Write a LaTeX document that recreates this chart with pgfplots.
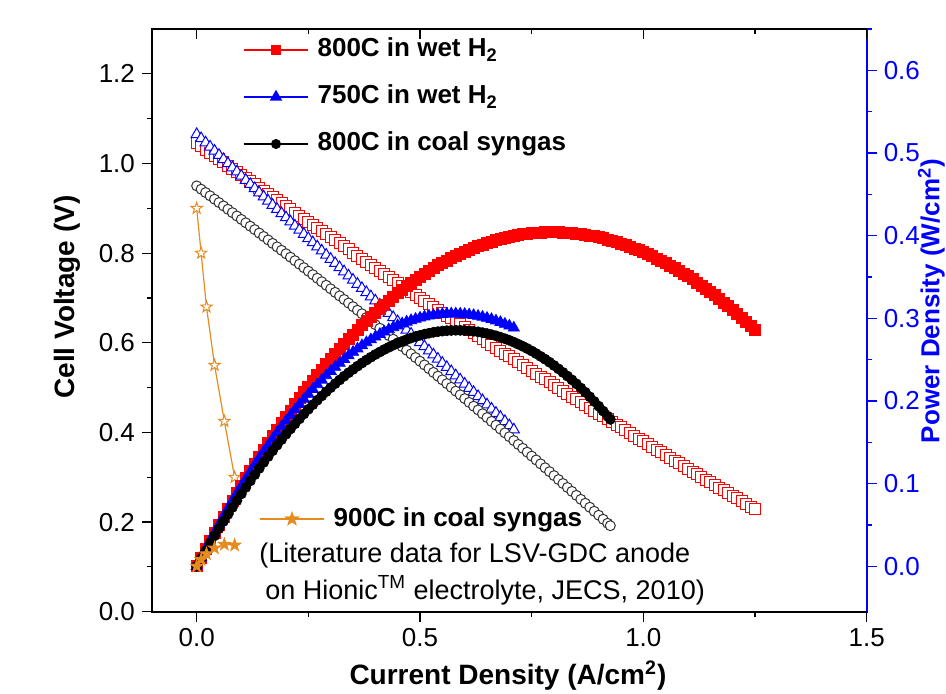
\documentclass[border=0pt]{standalone}
\usepackage{fontspec}
\setmainfont{Liberation Sans}
\usepackage{pgfplots}
\usepackage{pgfplotstable}
\pgfplotsset{compat=1.18}

\definecolor{starorange}{RGB}{230,140,30}

% five-pointed star mark, filled with the current fill colour
\pgfdeclareplotmark{pstar}{%
  \pgfpathmoveto{\pgfpointpolar{90}{\pgfplotmarksize}}%
  \pgfpathlineto{\pgfpointpolar{126}{0.4*\pgfplotmarksize}}%
  \pgfpathlineto{\pgfpointpolar{162}{\pgfplotmarksize}}%
  \pgfpathlineto{\pgfpointpolar{198}{0.4*\pgfplotmarksize}}%
  \pgfpathlineto{\pgfpointpolar{234}{\pgfplotmarksize}}%
  \pgfpathlineto{\pgfpointpolar{270}{0.4*\pgfplotmarksize}}%
  \pgfpathlineto{\pgfpointpolar{306}{\pgfplotmarksize}}%
  \pgfpathlineto{\pgfpointpolar{342}{0.4*\pgfplotmarksize}}%
  \pgfpathlineto{\pgfpointpolar{18}{\pgfplotmarksize}}%
  \pgfpathlineto{\pgfpointpolar{54}{0.4*\pgfplotmarksize}}%
  \pgfpathclose
  \pgfusepathqfillstroke
}

% I (A/cm2)  V (V)  P (W/cm2)
\pgfplotstableread{
I     V      P
0.00  1.0450 0.0000
0.01  1.0379 0.0104
0.02  1.0308 0.0206
0.03  1.0237 0.0307
0.04  1.0166 0.0407
0.05  1.0095 0.0505
0.06  1.0024 0.0601
0.07  0.9954 0.0697
0.08  0.9883 0.0791
0.09  0.9813 0.0883
0.10  0.9742 0.0974
0.11  0.9672 0.1064
0.12  0.9601 0.1152
0.13  0.9531 0.1239
0.14  0.9461 0.1325
0.15  0.9391 0.1409
0.16  0.9321 0.1491
0.17  0.9252 0.1573
0.18  0.9182 0.1653
0.19  0.9113 0.1731
0.20  0.9043 0.1809
0.21  0.8974 0.1885
0.22  0.8905 0.1959
0.23  0.8836 0.2032
0.24  0.8766 0.2104
0.25  0.8698 0.2174
0.26  0.8629 0.2244
0.27  0.8560 0.2311
0.28  0.8491 0.2378
0.29  0.8423 0.2443
0.30  0.8354 0.2506
0.31  0.8286 0.2569
0.32  0.8218 0.2630
0.33  0.8150 0.2689
0.34  0.8081 0.2748
0.35  0.8013 0.2805
0.36  0.7945 0.2860
0.37  0.7878 0.2915
0.38  0.7810 0.2968
0.39  0.7743 0.3020
0.40  0.7675 0.3070
0.41  0.7608 0.3119
0.42  0.7540 0.3167
0.43  0.7473 0.3213
0.44  0.7406 0.3259
0.45  0.7339 0.3303
0.46  0.7272 0.3345
0.47  0.7205 0.3386
0.48  0.7138 0.3426
0.49  0.7072 0.3465
0.50  0.7005 0.3503
0.51  0.6939 0.3539
0.52  0.6872 0.3573
0.53  0.6806 0.3607
0.54  0.6740 0.3640
0.55  0.6674 0.3671
0.56  0.6608 0.3700
0.57  0.6542 0.3729
0.58  0.6476 0.3756
0.59  0.6411 0.3782
0.60  0.6345 0.3807
0.61  0.6280 0.3831
0.62  0.6214 0.3853
0.63  0.6149 0.3874
0.64  0.6083 0.3893
0.65  0.6018 0.3912
0.66  0.5953 0.3929
0.67  0.5889 0.3946
0.68  0.5824 0.3960
0.69  0.5759 0.3974
0.70  0.5694 0.3986
0.71  0.5630 0.3997
0.72  0.5565 0.4007
0.73  0.5501 0.4016
0.74  0.5437 0.4023
0.75  0.5373 0.4029
0.76  0.5308 0.4034
0.77  0.5245 0.4038
0.78  0.5181 0.4041
0.79  0.5117 0.4042
0.80  0.5053 0.4042
0.81  0.4990 0.4042
0.82  0.4926 0.4039
0.83  0.4863 0.4036
0.84  0.4799 0.4031
0.85  0.4736 0.4026
0.86  0.4673 0.4019
0.87  0.4610 0.4011
0.88  0.4547 0.4001
0.89  0.4485 0.3991
0.90  0.4422 0.3980
0.91  0.4360 0.3968
0.92  0.4297 0.3953
0.93  0.4235 0.3938
0.94  0.4172 0.3922
0.95  0.4110 0.3905
0.96  0.4048 0.3886
0.97  0.3986 0.3866
0.98  0.3924 0.3845
0.99  0.3862 0.3823
1.00  0.3800 0.3800
1.01  0.3739 0.3776
1.02  0.3677 0.3750
1.03  0.3616 0.3724
1.04  0.3554 0.3696
1.05  0.3493 0.3668
1.06  0.3432 0.3638
1.07  0.3371 0.3607
1.08  0.3310 0.3575
1.09  0.3249 0.3541
1.10  0.3188 0.3507
1.11  0.3127 0.3471
1.12  0.3066 0.3434
1.13  0.3006 0.3397
1.14  0.2946 0.3358
1.15  0.2886 0.3319
1.16  0.2825 0.3277
1.17  0.2765 0.3235
1.18  0.2705 0.3192
1.19  0.2646 0.3149
1.20  0.2586 0.3103
1.21  0.2526 0.3056
1.22  0.2466 0.3009
1.23  0.2407 0.2961
1.24  0.2347 0.2910
1.25  0.2288 0.2860
}\redH

\pgfplotstableread{
I     V      P
0.00  1.0650 0.0000
0.01  1.0557 0.0106
0.02  1.0464 0.0209
0.03  1.0372 0.0311
0.04  1.0279 0.0411
0.05  1.0186 0.0509
0.06  1.0093 0.0606
0.07  1.0000 0.0700
0.08  0.9908 0.0793
0.09  0.9815 0.0883
0.10  0.9722 0.0972
0.11  0.9629 0.1059
0.12  0.9536 0.1144
0.13  0.9444 0.1228
0.14  0.9351 0.1309
0.15  0.9258 0.1389
0.16  0.9165 0.1466
0.17  0.9072 0.1542
0.18  0.8980 0.1616
0.19  0.8887 0.1689
0.20  0.8794 0.1759
0.21  0.8701 0.1827
0.22  0.8608 0.1894
0.23  0.8516 0.1959
0.24  0.8423 0.2022
0.25  0.8330 0.2083
0.26  0.8237 0.2142
0.27  0.8144 0.2199
0.28  0.8052 0.2254
0.29  0.7959 0.2308
0.30  0.7866 0.2360
0.31  0.7773 0.2410
0.32  0.7680 0.2458
0.33  0.7588 0.2504
0.34  0.7495 0.2548
0.35  0.7402 0.2591
0.36  0.7309 0.2631
0.37  0.7216 0.2670
0.38  0.7124 0.2707
0.39  0.7031 0.2742
0.40  0.6938 0.2775
0.41  0.6845 0.2806
0.42  0.6752 0.2836
0.43  0.6660 0.2864
0.44  0.6567 0.2889
0.45  0.6474 0.2913
0.46  0.6381 0.2935
0.47  0.6288 0.2956
0.48  0.6196 0.2974
0.49  0.6103 0.2990
0.50  0.6010 0.3005
0.51  0.5917 0.3018
0.52  0.5824 0.3029
0.53  0.5732 0.3038
0.54  0.5639 0.3045
0.55  0.5546 0.3050
0.56  0.5453 0.3054
0.57  0.5360 0.3055
0.58  0.5268 0.3055
0.59  0.5175 0.3053
0.60  0.5082 0.3049
0.61  0.4989 0.3043
0.62  0.4896 0.3036
0.63  0.4804 0.3026
0.64  0.4711 0.3015
0.65  0.4618 0.3002
0.66  0.4525 0.2987
0.67  0.4432 0.2970
0.68  0.4340 0.2951
0.69  0.4247 0.2930
0.70  0.4154 0.2908
0.71  0.4061 0.2884
}\blueH

\pgfplotstableread{
I     V      P
0.00  0.9500 0.0000
0.01  0.9426 0.0094
0.02  0.9352 0.0187
0.03  0.9278 0.0278
0.04  0.9203 0.0368
0.05  0.9128 0.0456
0.06  0.9053 0.0543
0.07  0.8978 0.0628
0.08  0.8903 0.0712
0.09  0.8828 0.0794
0.10  0.8752 0.0875
0.11  0.8676 0.0954
0.12  0.8600 0.1032
0.13  0.8524 0.1108
0.14  0.8447 0.1183
0.15  0.8371 0.1256
0.16  0.8294 0.1327
0.17  0.8217 0.1397
0.18  0.8140 0.1465
0.19  0.8063 0.1532
0.20  0.7986 0.1597
0.21  0.7909 0.1661
0.22  0.7831 0.1723
0.23  0.7753 0.1783
0.24  0.7675 0.1842
0.25  0.7597 0.1899
0.26  0.7519 0.1955
0.27  0.7440 0.2009
0.28  0.7361 0.2061
0.29  0.7283 0.2112
0.30  0.7204 0.2161
0.31  0.7125 0.2209
0.32  0.7045 0.2254
0.33  0.6966 0.2299
0.34  0.6886 0.2341
0.35  0.6806 0.2382
0.36  0.6726 0.2421
0.37  0.6646 0.2459
0.38  0.6565 0.2495
0.39  0.6485 0.2529
0.40  0.6404 0.2562
0.41  0.6323 0.2592
0.42  0.6242 0.2622
0.43  0.6161 0.2649
0.44  0.6079 0.2675
0.45  0.5998 0.2699
0.46  0.5916 0.2721
0.47  0.5834 0.2742
0.48  0.5752 0.2761
0.49  0.5670 0.2778
0.50  0.5588 0.2794
0.51  0.5505 0.2808
0.52  0.5422 0.2819
0.53  0.5339 0.2830
0.54  0.5256 0.2838
0.55  0.5173 0.2845
0.56  0.5089 0.2850
0.57  0.5006 0.2853
0.58  0.4922 0.2855
0.59  0.4838 0.2854
0.60  0.4754 0.2852
0.61  0.4670 0.2849
0.62  0.4585 0.2843
0.63  0.4501 0.2836
0.64  0.4416 0.2826
0.65  0.4331 0.2815
0.66  0.4246 0.2802
0.67  0.4161 0.2788
0.68  0.4075 0.2771
0.69  0.3990 0.2753
0.70  0.3904 0.2733
0.71  0.3818 0.2711
0.72  0.3731 0.2686
0.73  0.3645 0.2661
0.74  0.3559 0.2634
0.75  0.3472 0.2604
0.76  0.3385 0.2573
0.77  0.3298 0.2539
0.78  0.3211 0.2505
0.79  0.3124 0.2468
0.80  0.3036 0.2429
0.81  0.2948 0.2388
0.82  0.2860 0.2345
0.83  0.2772 0.2301
0.84  0.2684 0.2255
0.85  0.2596 0.2207
0.86  0.2507 0.2156
0.87  0.2419 0.2105
0.88  0.2330 0.2050
0.89  0.2241 0.1994
0.90  0.2152 0.1937
0.91  0.2063 0.1877
0.92  0.1973 0.1815
0.926 0.1919 0.1777
}\blackSyn

\pgfplotstableread{
I     V      P
0.000 0.900  0.0000
0.010 0.800  0.0080
0.022 0.680  0.0150
0.040 0.550  0.0220
0.062 0.425  0.0264
0.085 0.300  0.0255
}\litSyn

\begin{document}
\begin{tikzpicture}
\useasboundingbox (-76pt,-40.65pt) rectangle (397pt,305.85pt);

% ---- left axis: cell voltage
\begin{axis}[
  at={(0pt,0pt)}, anchor=south west,
  scale only axis, width=357.35pt, height=291.35pt,
  xmin=-0.1, xmax=1.5, ymin=0, ymax=1.3,
  xtick={0,0.5,1,1.5}, minor xtick={0.25,0.75,1.25},
  ytick={0,0.2,0.4,0.6,0.8,1.0,1.2}, minor ytick={0.1,0.3,0.5,0.7,0.9,1.1},
  xtick pos=bottom, ytick pos=left, tick align=outside,
  major tick length=5pt, minor tick length=2.5pt,
  tick style={black, line width=0.6pt},
  axis line style={line width=0.9pt},
  clip=false,
  ticklabel style={font=\fontsize{13}{15}\selectfont},
  /pgf/number format/assume math mode=true,
  /pgf/number format/fixed, /pgf/number format/fixed zerofill,
  /pgf/number format/precision=1,
  xlabel={Current Density (A/cm\textsuperscript{2})},
  ylabel={Cell Voltage (V)},
  label style={font=\fontsize{14}{16}\bfseries\selectfont},
  xlabel style={at={(axis description cs:0.498,-0.11)}, anchor=center},
  ylabel style={at={(axis description cs:-0.119,0.54)}, anchor=center},
  legend image code/.code={%
    \draw[mark repeat=2,mark phase=2,#1] plot coordinates {(0pt,0pt) (16pt,0pt) (32pt,0pt)};
    \path (36.5pt,0pt);},
  legend style={at={(axis description cs:0.1497,0.159)}, anchor=west,
    draw=none, fill=none, inner sep=0pt,
    font=\fontsize{13}{15}\bfseries\selectfont,
    nodes={inner sep=0pt, text height=10pt, text depth=3pt}},
  legend cell align=left,
]
\addplot[forget plot, only marks, red, mark=square*, mark size=2.75pt,
  mark options={fill=white, line width=0.5pt}] table[x=I,y=V] {\redH};
\addplot[forget plot, only marks, blue, mark=triangle*, mark size=3.2pt,
  mark options={fill=white, line width=0.5pt}] table[x=I,y=V] {\blueH};
\addplot[forget plot, only marks, black!80, mark=*, mark size=2.5pt,
  mark options={fill=white, line width=0.5pt}] table[x=I,y=V] {\blackSyn};
\addplot[forget plot, starorange, line width=0.6pt, mark=pstar, mark size=3pt,
  mark options={fill=white, line width=0.5pt}] table[x=I,y=V] {\litSyn};
\addlegendimage{starorange, line width=0.6pt, mark=pstar, mark size=3.2pt,
  mark options={fill=starorange}}
\addlegendentry{900C in coal syngas}
\node[anchor=west, inner sep=0pt, font=\fontsize{13.5}{15}\selectfont]
  at (axis description cs:0.1497,0.0956) {(Literature data for LSV-GDC anode};
\node[anchor=west, inner sep=0pt, font=\fontsize{13.5}{15}\selectfont]
  at (axis description cs:0.158,0.037) {on Hionic\textsuperscript{TM} electrolyte, JECS, 2010)};
\end{axis}

% ---- right axis: power density
\begin{axis}[
  at={(0pt,0pt)}, anchor=south west,
  scale only axis, width=357.35pt, height=291.35pt,
  xmin=-0.1, xmax=1.5, ymin=-0.055, ymax=0.65,
  axis x line=none, axis y line*=right,
  ytick={0,0.1,0.2,0.3,0.4,0.5,0.6},
  minor ytick={0.05,0.15,0.25,0.35,0.45,0.55,0.65},
  tick align=outside, major tick length=5pt, minor tick length=2.5pt,
  axis line style={-, blue, line width=0.9pt},
  tick style={blue, line width=0.6pt},
  clip=false,
  yticklabel style={blue, font=\fontsize{13}{15}\selectfont},
  /pgf/number format/assume math mode=true,
  /pgf/number format/fixed, /pgf/number format/fixed zerofill,
  /pgf/number format/precision=1,
  legend image code/.code={%
    \draw[mark repeat=2,mark phase=2,#1] plot coordinates {(0pt,0pt) (16pt,0pt) (32pt,0pt)};
    \path (36.5pt,0pt);},
  legend style={at={(axis description cs:0.1273,0.8833)}, anchor=west,
    draw=none, fill=none, inner sep=0pt, row sep=10.5pt,
    font=\fontsize{13}{15}\bfseries\selectfont,
    nodes={inner sep=0pt, text height=10pt, text depth=3pt}},
  legend cell align=left,
]
\addplot[forget plot, only marks, red, mark=square*, mark size=2.75pt,
  mark options={fill=red}] table[x=I,y=P] {\redH};
\addplot[forget plot, only marks, blue, mark=triangle*, mark size=3.2pt,
  mark options={fill=blue}] table[x=I,y=P] {\blueH};
\addplot[forget plot, only marks, black, mark=*, mark size=2.5pt,
  mark options={fill=black}] table[x=I,y=P] {\blackSyn};
\addplot[forget plot, starorange, line width=0.6pt, mark=pstar, mark size=3pt,
  mark options={fill=starorange}] table[x=I,y=P] {\litSyn};
\addlegendimage{red, line width=0.6pt, mark=square*, mark size=2.2pt}
\addlegendentry{800C in wet H\textsubscript{2}}
\addlegendimage{blue, line width=0.6pt, mark=triangle*, mark size=3pt}
\addlegendentry{750C in wet H\textsubscript{2}}
\addlegendimage{black, line width=0.6pt, mark=*, mark size=2.2pt}
\addlegendentry{800C in coal syngas}
\path (axis description cs:1,0.533) ++(39.2pt,0pt)
  node[rotate=90, anchor=south, inner sep=0pt, blue,
       font=\fontsize{13}{15}\bfseries\selectfont]
  {Power Density (W/cm\textsuperscript{2})};
\end{axis}

% ---- top ticks pointing inward
\begin{axis}[
  at={(0pt,0pt)}, anchor=south west,
  scale only axis, width=357.35pt, height=291.35pt,
  xmin=-0.1, xmax=1.5, ymin=0, ymax=1,
  axis x line*=top, axis y line=none,
  xtick={0,0.5,1,1.5}, minor xtick={0.25,0.75,1.25}, xticklabels={},
  tick align=inside, major tick length=5pt, minor tick length=2.5pt,
  axis line style={-, line width=0.9pt},
  tick style={black, line width=0.6pt},
]
\end{axis}
\end{tikzpicture}
\end{document}
